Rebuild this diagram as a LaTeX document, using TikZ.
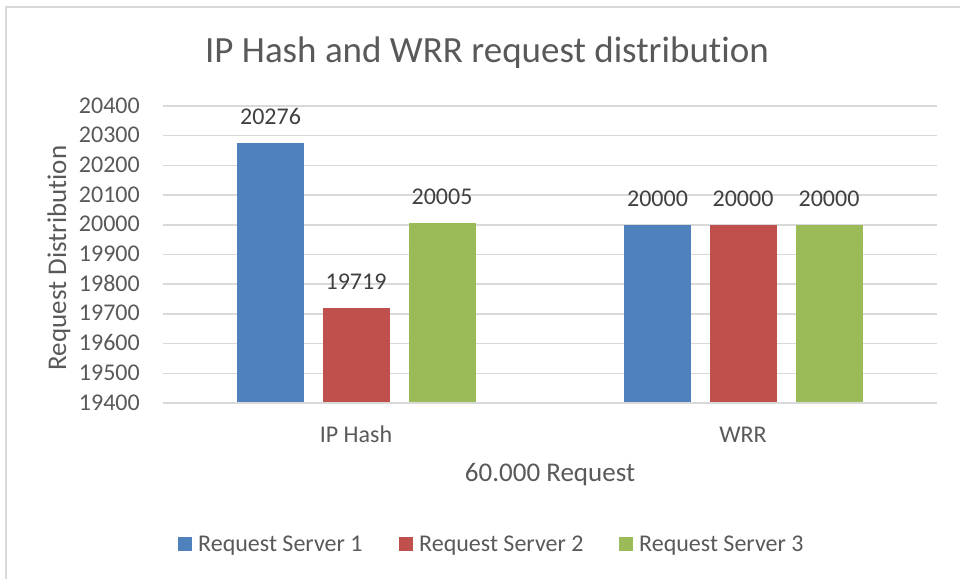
\documentclass[tikz,border=0pt]{standalone}
\usepackage{fontspec}
\setmainfont{Carlito}[Ligatures=NoCommon]
\usetikzlibrary{positioning}
\definecolor{srvA}{RGB}{79,129,189}
\definecolor{srvB}{RGB}{192,80,77}
\definecolor{srvC}{RGB}{155,187,89}
\definecolor{txtgray}{RGB}{89,89,89}
\definecolor{lblgray}{RGB}{64,64,64}
\definecolor{gridgray}{RGB}{217,217,217}

\begin{document}
\begin{tikzpicture}[x=1pt,y=-1pt,
  gridline/.style={draw=gridgray, line width=1.5pt},
  ticklabel/.style={anchor=base east, text=txtgray, inner sep=0pt, font=\fontsize{24}{28}\selectfont},
  datalabel/.style={anchor=base, text=lblgray, inner sep=0pt, font=\fontsize{24}{28}\selectfont},
  axislabel/.style={anchor=base, text=txtgray, inner sep=0pt, font=\fontsize{24}{28}\selectfont},
  axistitle/.style={anchor=base, text=txtgray, inner sep=0pt, font=\fontsize{27}{32}\selectfont},
  legendtext/.style={anchor=base west, text=txtgray, inner sep=0pt, font=\fontsize{24}{28}\selectfont}]
\useasboundingbox (0,0) rectangle (960,579);
\draw[gridline] (6,579) -- (6,7) -- (960,7);

% title
\node[anchor=base, text=txtgray, inner sep=0pt, font=\fontsize{37}{44}\selectfont] (title) at (487,62) {IP Hash and WRR request distribution};

% grid and y ticks (labels = 19400 + 100 i)
\foreach \i in {0,...,10} {
  \pgfmathtruncatemacro\tv{194+\i}
  \draw[gridline] (163,403-\i*29.7) -- (937,403-\i*29.7);
  \node[ticklabel] (tick-\i) at (140,410-\i*29.7) {\tv00};
}

% bars, \off = value - 19400
\foreach \val/\off/\xc/\col/\nm in {20276/876/270.5/srvA/ipa, 19719/319/356/srvB/ipb, 20005/605/442/srvC/ipc,
                                    20000/600/657.5/srvA/wa, 20000/600/743/srvB/wb, 20000/600/829/srvC/wc} {
  \pgfmathsetmacro\ytop{403-\off*0.297}
  \fill[\col] (\xc-33.5,\ytop) rectangle (\xc+33.5,402.2);
  \node[datalabel] (lab-\nm) at (\xc,\ytop-18.5) {\val};
}

% axis labels
\node[axislabel] (cat-ip) at (356,442) {IP Hash};
\node[axislabel] (cat-wrr) at (743,442) {WRR};
\node[axistitle] (xtitle) at (550,481) {60.000 Request};
\node[axistitle, rotate=90] (ytitle) at (66,258) {Request Distribution};

% legend
\fill[srvA] (178,537) rectangle (191.5,550.5);
\node[legendtext] (leg-a) at (198,551) {Request Server 1};
\fill[srvB] (399,537) rectangle (412.5,550.5);
\node[legendtext] (leg-b) at (419,551) {Request Server 2};
\fill[srvC] (619,537) rectangle (632.5,550.5);
\node[legendtext] (leg-c) at (639,551) {Request Server 3};
\end{tikzpicture}
\end{document}
